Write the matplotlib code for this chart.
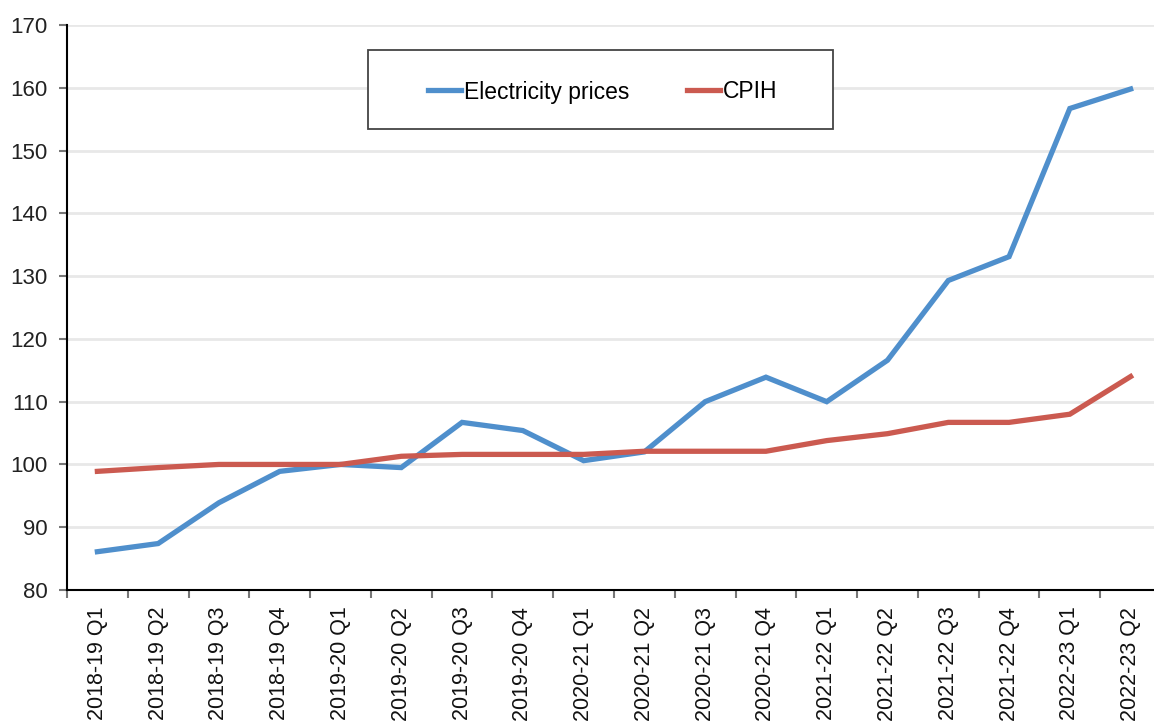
import numpy as np
import matplotlib
matplotlib.use('Agg')
import matplotlib.pyplot as plt
from matplotlib.patches import Rectangle

quarters = ['2018-19 Q1', '2018-19 Q2', '2018-19 Q3', '2018-19 Q4',
            '2019-20 Q1', '2019-20 Q2', '2019-20 Q3', '2019-20 Q4',
            '2020-21 Q1', '2020-21 Q2', '2020-21 Q3', '2020-21 Q4',
            '2021-22 Q1', '2021-22 Q2', '2021-22 Q3', '2021-22 Q4',
            '2022-23 Q1', '2022-23 Q2']
electricity = [86.1, 87.4, 93.9, 98.9, 100.0, 99.5, 106.7, 105.4, 100.6,
               102.0, 110.0, 113.9, 110.0, 116.6, 129.3, 133.1, 156.7, 159.8]
cpih = [98.9, 99.5, 100.0, 100.0, 100.0, 101.3, 101.6, 101.6, 101.6,
        102.1, 102.1, 102.1, 103.8, 104.9, 106.7, 106.7, 108.0, 114.0]

plt.rcParams['font.family'] = ['Liberation Sans', 'DejaVu Sans']

fig = plt.figure(figsize=(11.54, 7.26), dpi=100)
ax = fig.add_axes([67 / 1154, 1 - 590 / 726, 1094 / 1154, 565 / 726])

x = np.arange(len(quarters))
ax.plot(x, electricity, color='#4f8fcc', lw=3.8, solid_joinstyle='miter',
        label='Electricity prices', zorder=3)
ax.plot(x, cpih, color='#cb5a50', lw=3.8, solid_joinstyle='miter',
        label='CPIH', zorder=3)

ax.set_xlim(-0.5, len(quarters) - 0.5)
ax.set_ylim(80, 170)
ax.set_yticks(np.arange(80, 171, 10))
ax.yaxis.grid(True, color='#e8e8e8', lw=2)
ax.set_axisbelow(True)

ax.set_xticks(x)
ax.set_xticklabels(quarters, rotation=90, fontsize=15.5, color='#111111')
ax.set_xticks(np.arange(-0.5, len(quarters), 1), minor=True)
ax.tick_params(axis='x', which='major', length=0, pad=12)
ax.tick_params(axis='x', which='minor', length=6, width=1.5, color='#777777')
ax.tick_params(axis='y', length=6, width=1.5, color='#777777', labelsize=16,
               labelcolor='#222222', pad=8)

for s in ['top', 'right']:
    ax.spines[s].set_visible(False)
ax.spines['left'].set_linewidth(1.5)
ax.spines['bottom'].set_linewidth(1.5)

# legend box
fig.patches.append(Rectangle((368 / 1154, 1 - 129 / 726), 465 / 1154, 79 / 726,
                             transform=fig.transFigure, facecolor='white',
                             edgecolor='#444444', lw=1.3, zorder=5))
leg = fig.legend(loc='center', bbox_to_anchor=(603 / 1154, 1 - 92 / 726),
                 ncol=2, frameon=False, fontsize=16.5, handlelength=1.45,
                 handletextpad=0.13, columnspacing=2.5)
leg.set_zorder(6)

fig.savefig('out.png', dpi=100)
